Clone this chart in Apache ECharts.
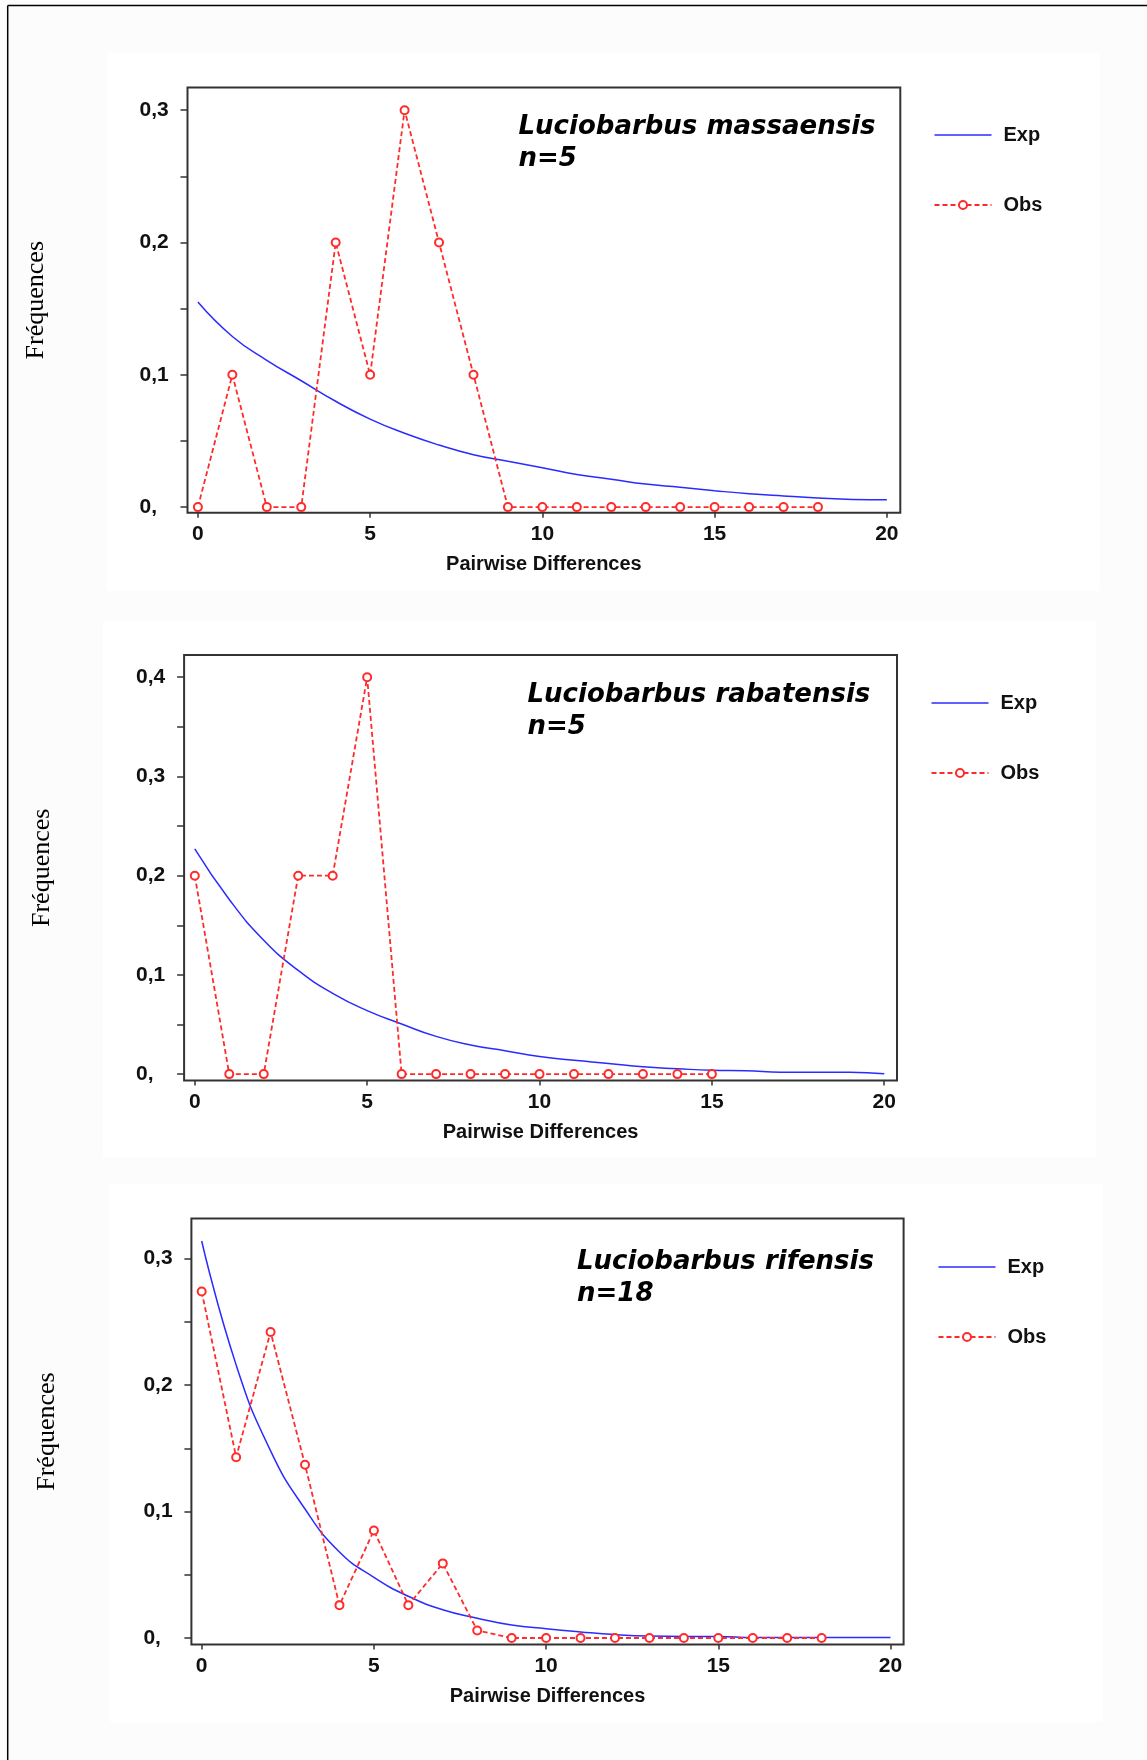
<!DOCTYPE html>
<html>
<head>
<meta charset="utf-8">
<script src="https://cdn.jsdelivr.net/npm/echarts@6/dist/echarts.min.js"></script>
<style>
html,body{margin:0;padding:0;background:#fcfcfc;}
#c{width:1147px;height:1760px;}
</style>
</head>
<body>
<div id="c"></div>
<script>
// ---------- DATA ----------
const diffs = [0,1,2,3,4,5,6,7,8,9,10,11,12,13,14,15,16,17,18,19,20];

// Luciobarbus massaensis
const exp1 = [0.155,0.129,0.111,0.0955,0.080,0.0665,0.0558,0.0469,0.0396,0.0347,0.0298,0.0246,0.0211,0.0174,0.0150,0.0124,0.0101,0.0084,0.0069,0.0058,0.0055];
const obs1 = [0,0.1,0,0,0.2,0.1,0.3,0.2,0.1,0,0,0,0,0,0,0,0,0,0];

// Luciobarbus rabatensis
const exp2 = [0.227,0.176,0.135,0.1045,0.0814,0.064,0.0505,0.038,0.0293,0.0235,0.0177,0.0139,0.0108,0.0073,0.0054,0.0039,0.0035,0.0019,0.0019,0.0019,0.0003];
const obs2 = [0.2,0,0,0.2,0.2,0.4,0,0,0,0,0,0,0,0,0,0];

// Luciobarbus rifensis
const exp3 = [0.314,0.216,0.148,0.102,0.068,0.048,0.033,0.0224,0.0157,0.0103,0.0073,0.0048,0.0027,0.0015,0.0012,0.0012,0.0003,0.0003,0.0003,0.0003,0.0003];
const obs3 = [0.274,0.143,0.242,0.137,0.026,0.085,0.026,0.059,0.006,0,0,0,0,0,0,0,0,0,0];

const titles = ['Luciobarbus massaensis\nn=5', 'Luciobarbus rabatensis\nn=5', 'Luciobarbus rifensis\nn=18'];
const seriesNames = ['Exp', 'Obs'];
const xAxisName = 'Pairwise Differences';
const yAxisName = 'Fréquences';

const xTickValues = [0,5,10,15,20];
const xTickLabels = ['0','5','10','15','20'];

const yTickValues1 = [0,0.05,0.1,0.15,0.2,0.25,0.3];
const yLabelValues1 = [0,0.1,0.2,0.3];
const yLabels1 = ['0,','0,1','0,2','0,3'];

const yTickValues2 = [0,0.05,0.1,0.15,0.2,0.25,0.3,0.35,0.4];
const yLabelValues2 = [0,0.1,0.2,0.3,0.4];
const yLabels2 = ['0,','0,1','0,2','0,3','0,4'];

const yTickValues3 = [0,0.05,0.1,0.15,0.2,0.25,0.3];
const yLabelValues3 = [0,0.1,0.2,0.3];
const yLabels3 = ['0,','0,1','0,2','0,3'];

// ---------- LAYOUT ----------
const layout = [
  {grid:{left:187.5, top:87.6, width:712.8, height:425.2}, xr:[-0.302,20.39], yr:[-0.0043,0.3171], nameGap:138, titlePos:[518.5,111], legendPos:[933.5,125]},
  {grid:{left:184.1, top:655.0, width:712.9, height:425.6}, xr:[-0.310,20.37], yr:[-0.00655,0.4224], nameGap:129, titlePos:[527.5,679.5], legendPos:[930.5,693]},
  {grid:{left:191.4, top:1218.6, width:712.2, height:425.9}, xr:[-0.299,20.38], yr:[-0.00514,0.3317], nameGap:131, titlePos:[577,1246], legendPos:[937.5,1257]}
];
const panelsData = [
  {exp:exp1, obs:obs1, yt:yTickValues1, ylv:yLabelValues1, yl:yLabels1},
  {exp:exp2, obs:obs2, yt:yTickValues2, ylv:yLabelValues2, yl:yLabels2},
  {exp:exp3, obs:obs3, yt:yTickValues3, ylv:yLabelValues3, yl:yLabels3}
];

const SANS = '"Liberation Sans", Arial, sans-serif';
const BLUE = '#2b2bff';
const RED = '#ff2b2b';
const AXC = '#333333';

const grids = [], xAxes = [], yAxes = [], series = [], titleOpts = [], legends = [];

panelsData.forEach((p, k) => {
  const L = layout[k];
  grids.push(Object.assign({show:true, backgroundColor:'#ffffff', borderColor:AXC, borderWidth:2, containLabel:false}, L.grid));
  xAxes.push({
    type:'value', gridIndex:k, min:L.xr[0], max:L.xr[1],
    splitLine:{show:false},
    axisLine:{show:false, onZero:false},
    axisTick:{show:true, customValues:xTickValues, length:5, lineStyle:{color:AXC, width:1.5}},
    axisLabel:{show:true, customValues:xTickValues, margin:11, color:'#111', fontFamily:SANS, fontWeight:'bold', fontSize:21,
      formatter:(v)=>{const i=xTickValues.findIndex(t=>Math.abs(t-v)<1e-9); return i>=0?xTickLabels[i]:'';}},
    name:xAxisName, nameLocation:'middle', nameGap:42,
    nameTextStyle:{color:'#111', fontFamily:SANS, fontWeight:'bold', fontSize:20}
  });
  yAxes.push({
    type:'value', gridIndex:k, min:L.yr[0], max:L.yr[1],
    splitLine:{show:false},
    axisLine:{show:false, onZero:false},
    axisTick:{show:true, customValues:p.yt, length:7, lineStyle:{color:AXC, width:1.5}},
    axisLabel:{show:true, customValues:p.ylv, margin:48, align:'left', color:'#111', fontFamily:SANS, fontWeight:'bold', fontSize:21,
      formatter:(v)=>{const i=p.ylv.findIndex(t=>Math.abs(t-v)<1e-9); return i>=0?p.yl[i]:'';}},
    name:yAxisName, nameLocation:'middle', nameRotate:90, nameGap:L.nameGap,
    nameTextStyle:{color:'#000', fontFamily:'"Liberation Serif", "Times New Roman", serif', fontSize:26}
  });
  series.push({
    name:seriesNames[0], type:'line', xAxisIndex:k, yAxisIndex:k,
    data:p.exp.map((v,i)=>[diffs[i], v]),
    symbol:'none', smooth:0.5,
    lineStyle:{color:BLUE, width:1.5}, itemStyle:{color:BLUE}, z:3
  });
  series.push({
    name:seriesNames[1], type:'line', xAxisIndex:k, yAxisIndex:k,
    data:p.obs.map((v,i)=>[diffs[i], v]),
    symbol:'emptyCircle', symbolSize:8,
    lineStyle:{color:RED, width:1.8, type:[5,3]},
    itemStyle:{color:RED, borderColor:RED, borderWidth:1.4}, z:4
  });
  titleOpts.push({
    text:titles[k], left:L.titlePos[0], top:L.titlePos[1], padding:0,
    textStyle:{fontFamily:'"DejaVu Sans", Verdana, sans-serif', fontWeight:'bold', fontStyle:'italic', fontSize:26, lineHeight:32, color:'#000'}
  });
  legends.push({
    data:[{name:seriesNames[0], icon:'path://M0,0H57V1.6H0Z'}, {name:seriesNames[1]}],
    orient:'vertical', left:L.legendPos[0], top:L.legendPos[1], padding:0,
    itemWidth:57, itemHeight:10, itemGap:50, selectedMode:false, symbolKeepAspect:true,
    textStyle:{fontFamily:SANS, fontWeight:'bold', fontSize:20, lineHeight:20, color:'#111', padding:[0,0,0,7]}
  });
});

const option = {
  backgroundColor:'#fcfcfc',
  animation:false,
  title:titleOpts,
  legend:legends,
  grid:grids,
  xAxis:xAxes,
  yAxis:yAxes,
  series:series,
  graphic:[
    {type:'rect', z:-10, silent:true, shape:{x:107, y:53, width:993, height:538}, style:{fill:'#ffffff'}},
    {type:'rect', z:-10, silent:true, shape:{x:103, y:621, width:993, height:537}, style:{fill:'#ffffff'}},
    {type:'rect', z:-10, silent:true, shape:{x:110, y:1184, width:993, height:538}, style:{fill:'#ffffff'}},
    {type:'line', z:-5, silent:true, shape:{x1:7.7, y1:5.4, x2:1147, y2:5.4}, style:{stroke:'#000', lineWidth:1.5}},
    {type:'line', z:-5, silent:true, shape:{x1:7.7, y1:5.4, x2:7.7, y2:1760}, style:{stroke:'#000', lineWidth:1.5}}
  ]
};

const chart = echarts.init(document.getElementById('c'), null, {renderer:'canvas', width:1147, height:1760});
chart.setOption(option);
</script>
</body>
</html>
